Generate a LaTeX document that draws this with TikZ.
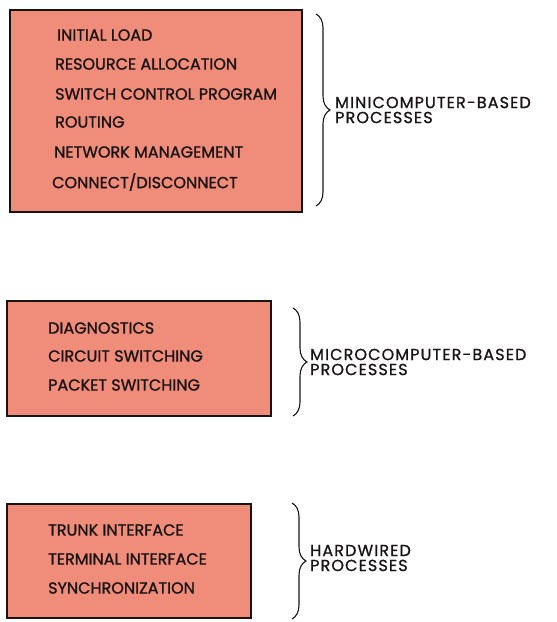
\documentclass[tikz,border=0pt]{standalone}
\usepackage{fontspec}
\setmainfont{Poppins}
\newfontfamily\itemfont[FakeBold=1.2]{Poppins}
\newfontfamily\grpfont[FakeBold=1.0, LetterSpace=7]{Poppins}
\usetikzlibrary{decorations.pathreplacing}
\definecolor{salmon}{RGB}{240,140,122}
\definecolor{ink}{RGB}{25,20,20}
\tikzset{
  procbox/.style={draw=ink, line width=1.3pt, fill=salmon},
  item/.style={anchor=west, inner sep=0pt, text=ink, font=\itemfont\fontsize{16}{17}\selectfont},
  grp/.style={anchor=west, inner sep=0pt, text=ink, align=left, font=\grpfont\fontsize{16}{15}\selectfont},
  brc/.style={draw=ink, line width=1.1pt, decorate, decoration={brace, amplitude=14pt}}
}
\begin{document}
\begin{tikzpicture}[x=1pt, y=-1pt]
\useasboundingbox (0,0) rectangle (557,622);
% box 1
\draw[procbox] (10,10) rectangle (302,212);
\node[item] (a1) at (57,35) {INITIAL LOAD};
\node[item] (a2) at (55,64) {RESOURCE ALLOCATION};
\node[item] (a3) at (55,94) {SWITCH CONTROL PROGRAM};
\node[item] (a4) at (55,122) {ROUTING};
\node[item] (a5) at (54,152) {NETWORK MANAGEMENT};
\node[item] (a6) at (52,182) {CONNECT/DISCONNECT};
\coordinate (b1t) at (316,14);
\coordinate (b1b) at (316,206);
\draw[brc] (b1t) -- (b1b);
\node[grp] (g1) at (335,110) {MINICOMPUTER-BASED\\PROCESSES};
% box 2
\draw[procbox] (7,301) rectangle (271,416);
\node[item] (c1) at (48,328) {DIAGNOSTICS};
\node[item] (c2) at (48,356) {CIRCUIT SWITCHING};
\node[item] (c3) at (48,385) {PACKET SWITCHING};
\coordinate (b2t) at (293,308);
\coordinate (b2b) at (293,416);
\draw[brc] (b2t) -- (b2b);
\node[grp] (g2) at (310,362) {MICROCOMPUTER-BASED\\PROCESSES};
% box 3
\draw[procbox] (7,504) rectangle (251,618);
\node[item] (d1) at (48,530) {TRUNK INTERFACE};
\node[item] (d2) at (48,559) {TERMINAL INTERFACE};
\node[item] (d3) at (48,588) {SYNCHRONIZATION};
\coordinate (b3t) at (292,503);
\coordinate (b3b) at (292,619);
\draw[brc] (b3t) -- (b3b);
\node[grp] (g3) at (310,558) {HARDWIRED\\PROCESSES};
\end{tikzpicture}
\end{document}
